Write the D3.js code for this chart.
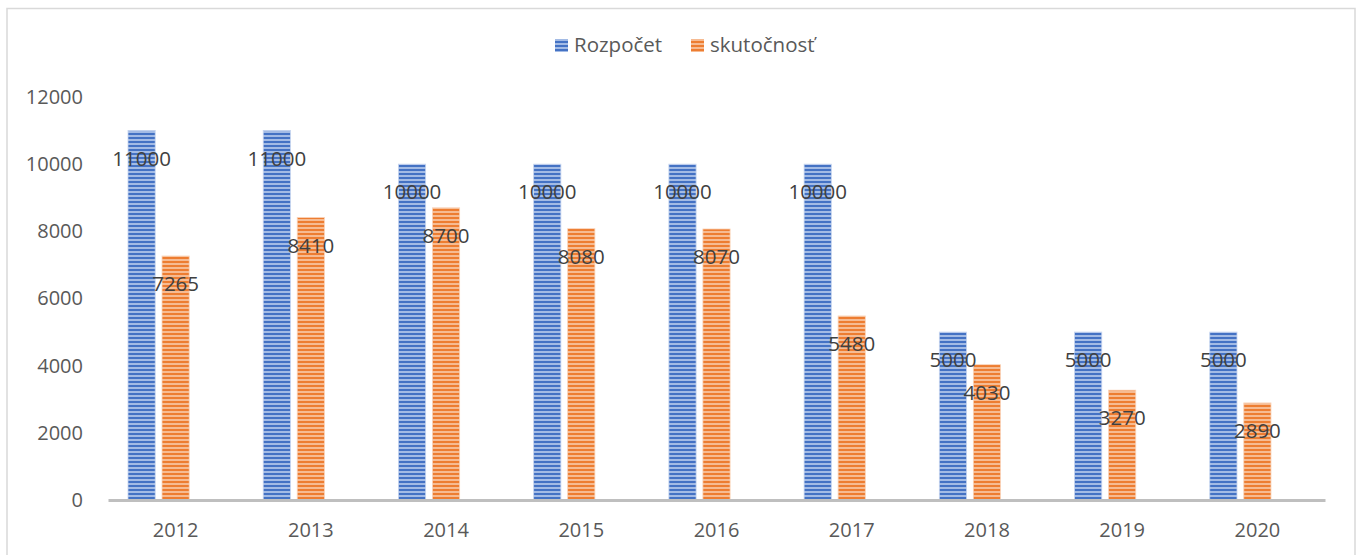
<!DOCTYPE html>
<html>
<head>
<meta charset="utf-8">
<script src="https://cdn.jsdelivr.net/npm/d3@7"></script>
<style>
  body { margin: 0; background: #fff; }
  svg { display: block; }
  .tick text { font-family: "Open Sans", sans-serif; }
</style>
</head>
<body>
<svg id="chart" width="1359" height="555"></svg>
<script>
"use strict";

var years = ["2012", "2013", "2014", "2015", "2016", "2017", "2018", "2019", "2020"];
var rozpocet = [11000, 11000, 10000, 10000, 10000, 10000, 5000, 5000, 5000];
var skutocnost = [7265, 8410, 8700, 8080, 8070, 5480, 4030, 3270, 2890];
var seriesNames = ["Rozpočet", "skutočnosť"];
var yTicks = [0, 2000, 4000, 6000, 8000, 10000, 12000];

var svg = d3.select("#chart");
var margin = { left: 108, right: 34, top: 97, bottom: 55 };
var width = 1359 - margin.left - margin.right;
var height = 555 - margin.top - margin.bottom;

// chart border
svg.append("rect")
    .attr("x", 7).attr("y", 8.5)
    .attr("width", 1348).attr("height", 560)
    .attr("fill", "none")
    .attr("stroke", "#d9d9d9")
    .attr("stroke-width", 1.5);

// striped fills
var defs = svg.append("defs");
function stripes(id, light, dark) {
    var p = defs.append("pattern")
        .attr("id", id)
        .attr("patternUnits", "userSpaceOnUse")
        .attr("width", 8).attr("height", 4);
    p.append("rect").attr("width", 8).attr("height", 4).attr("fill", light);
    p.append("rect").attr("y", 0).attr("width", 8).attr("height", 2).attr("fill", dark);
}
stripes("stripeBlue", "#a3bbe5", "#4472c4");
stripes("stripeOrange", "#f6bb92", "#ed7d31");
var fills = ["url(#stripeBlue)", "url(#stripeOrange)"];

var g = svg.append("g").attr("transform", "translate(" + margin.left + "," + margin.top + ")");

var x = d3.scaleBand().domain(years).range([0, width]).paddingInner(0).paddingOuter(0);
// third slot is an empty series, as in the original layout
var xSub = d3.scaleBand().domain([0, 1, 2]).range([20, x.bandwidth() - 20]).paddingInner(0.2);
var y = d3.scaleLinear().domain([0, 12000]).range([height, 0]);

// y axis labels
var yAxis = g.append("g")
    .call(d3.axisLeft(y).tickValues(yTicks).tickSize(0).tickPadding(25).tickFormat(d3.format("d")));
yAxis.select(".domain").remove();
yAxis.selectAll("text")
    .attr("font-size", 20)
    .attr("fill", "#595959");

var data = [rozpocet, skutocnost];

data.forEach(function(vals, si) {
    var sg = g.append("g");
    sg.selectAll("rect")
        .data(vals)
        .join("rect")
        .attr("x", function(d, i) { return x(years[i]) + xSub(si); })
        .attr("y", function(d) { return y(d); })
        .attr("width", xSub.bandwidth())
        .attr("height", function(d) { return height - y(d); })
        .attr("fill", fills[si])
        .attr("stroke", si === 0 ? "#c5d4ef" : "#fad3b8")
        .attr("stroke-width", 0.8);
});

// x axis line and labels
var xAxis = g.append("g")
    .attr("transform", "translate(0," + height + ")")
    .call(d3.axisBottom(x).tickSize(0).tickPadding(23));
xAxis.select(".domain")
    .attr("stroke", "#bfbfbf")
    .attr("stroke-width", 3);
xAxis.selectAll("text")
    .attr("font-size", 20)
    .attr("fill", "#595959");

// data labels
data.forEach(function(vals, si) {
    g.append("g").selectAll("text")
        .data(vals)
        .join("text")
        .attr("x", function(d, i) { return x(years[i]) + xSub(si) + xSub.bandwidth() / 2; })
        .attr("y", function(d) { return y(d) + 28; })
        .attr("dy", "0.35em")
        .attr("text-anchor", "middle")
        .attr("font-family", "Open Sans, sans-serif")
        .attr("font-size", 20.5)
        .attr("fill", "#404040")
        .text(function(d) { return d; });
});

// legend
var legend = svg.append("g").attr("transform", "translate(555,45)");
var legendX = [0, 136];
seriesNames.forEach(function(name, i) {
    var item = legend.append("g").attr("transform", "translate(" + legendX[i] + ",0)");
    item.append("rect")
        .attr("x", 0).attr("y", -6)
        .attr("width", 13).attr("height", 13)
        .attr("fill", fills[i]);
    item.append("text")
        .attr("x", 19).attr("y", 0)
        .attr("dy", "0.35em")
        .attr("font-family", "Open Sans, sans-serif")
        .attr("font-size", 20.5)
        .attr("fill", "#595959")
        .text(name);
});
</script>
</body>
</html>
